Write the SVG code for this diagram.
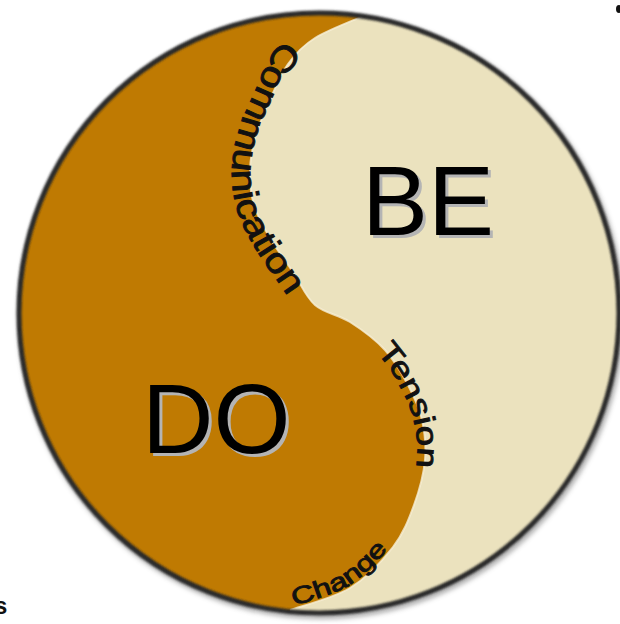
<svg xmlns="http://www.w3.org/2000/svg" width="620" height="624" viewBox="0 0 620 624">
  <defs>
    <clipPath id="disc">
      <circle cx="319" cy="313" r="300"/>
    </clipPath>
    <filter id="soft" x="-10%" y="-10%" width="120%" height="120%">
      <feGaussianBlur stdDeviation="0.9"/>
    </filter>
    <filter id="shadow" x="-10%" y="-10%" width="120%" height="120%">
      <feGaussianBlur stdDeviation="2.5"/>
    </filter>
    <path id="commPath" d="M302 26 C297.2 30.5 281 41.8 273 53 C265 64.2 259.7 80.2 254 93 C248.3 105.8 242.7 117.2 239 130 C235.3 142.8 232.3 156.7 232 170 C231.7 183.3 233.25 197.2 237 210 C240.75 222.8 247.7 235 254.5 247 C261.3 259 269.9 270.1 278 282 C286.1 293.9 298.8 312.4 303 318.5"/>
    <path id="tensPath" d="M346 329 C360 336 372 346 379 355 C388 366 396 377 401 389 C407 400 412 411 414 422 C417 435 418 447 417 459 C416 474 412 489 406 502"/>
    <path id="chgPath" d="M288.5 607.5 C298.5 603.8 331.3 596 348.5 585.5 C365.7 575 380.8 558.3 391.5 544.5 C402 531 407 517 412.5 502.5"/>
  </defs>
  <style>
    .big { font-family: "Liberation Sans", Arial, sans-serif; font-size: 99px; }
    .shadowtxt { fill: #b4b4b4; }
    .curve { font-family: "Liberation Sans", Arial, sans-serif; fill: #111; stroke: #111; stroke-width: 0.9; }
  </style>

  <rect width="620" height="624" fill="#ffffff"/>

  <g id="disc-shadow">
    <circle cx="321" cy="316" r="300" fill="none" stroke="#555" stroke-width="6" opacity="0.5" filter="url(#shadow)"/>
  </g>

  <g id="be-region">
    <circle cx="319" cy="313" r="300" fill="#EBE2BE"/>
  </g>

  <g id="do-region" clip-path="url(#disc)">
    <path fill="#BF7A02" d="M290 610 C300 606.3 332.8 598.5 350 588 C367.2 577.5 382.3 560.8 393 547 C403.7 533.2 408.7 519.5 414 505 C419.3 490.5 423.7 474.2 425 460 C426.3 445.8 424.8 432.5 422 420 C419.2 407.5 414.2 396.7 408 385 C401.8 373.3 394.7 360.5 385 350 C375.3 339.5 361.7 329.5 350 322 C338.3 314.5 324.5 313.3 315 305 C305.5 296.7 300.5 283.2 293 272 C285.5 260.8 276.5 249.2 270 238 C263.5 226.8 257.3 216.3 254 205 C250.7 193.7 249.7 181.7 250 170 C250.3 158.3 252.7 146.7 256 135 C259.3 123.3 264.7 111.8 270 100 C275.3 88.2 280.5 74.3 288 64 C295.5 53.7 302 46.2 315 38 C328 29.8 357.5 18.8 366 15 L370 -20 L-20 -20 L-20 650 L285 650 Z"/>
    <path fill="none" stroke="#F6EFD6" stroke-width="2" opacity="0.8" d="M290 610 C300 606.3 332.8 598.5 350 588 C367.2 577.5 382.3 560.8 393 547 C403.7 533.2 408.7 519.5 414 505 C419.3 490.5 423.7 474.2 425 460 C426.3 445.8 424.8 432.5 422 420 C419.2 407.5 414.2 396.7 408 385 C401.8 373.3 394.7 360.5 385 350 C375.3 339.5 361.7 329.5 350 322 C338.3 314.5 324.5 313.3 315 305 C305.5 296.7 300.5 283.2 293 272 C285.5 260.8 276.5 249.2 270 238 C263.5 226.8 257.3 216.3 254 205 C250.7 193.7 249.7 181.7 250 170 C250.3 158.3 252.7 146.7 256 135 C259.3 123.3 264.7 111.8 270 100 C275.3 88.2 280.5 74.3 288 64 C295.5 53.7 302 46.2 315 38 C328 29.8 357.5 18.8 366 15"/>
  </g>

  <g id="outline">
    <circle cx="319" cy="313" r="300" fill="none" stroke="#2a2a2a" stroke-width="5" filter="url(#soft)"/>
  </g>

  <g id="be-label">
    <text class="big shadowtxt" x="365" y="238">BE</text>
    <text class="big" x="362" y="235" fill="#000">BE</text>
  </g>

  <g id="do-label">
    <text class="big shadowtxt" x="145" y="456">DO</text>
    <text class="big" x="142" y="453" fill="#000">DO</text>
  </g>

  <g id="communication-label">
    <text class="curve" font-size="35"><textPath href="#commPath" startOffset="22" textLength="284" lengthAdjust="spacingAndGlyphs">Communication</textPath></text>
  </g>

  <g id="tension-label">
    <text class="curve" font-size="30"><textPath href="#tensPath" startOffset="38" textLength="126" lengthAdjust="spacingAndGlyphs">Tension</textPath></text>
  </g>

  <g id="change-label">
    <text class="curve" font-size="24"><textPath href="#chgPath" startOffset="6" textLength="112" lengthAdjust="spacingAndGlyphs">Change</textPath></text>
  </g>

  <g id="edge-fragments">
    <ellipse cx="619" cy="9" rx="3" ry="4" fill="#111"/>
    <text x="-6" y="614" font-family="Liberation Sans, Arial, sans-serif" font-size="24" font-weight="bold" fill="#111">s</text>
  </g>
</svg>
